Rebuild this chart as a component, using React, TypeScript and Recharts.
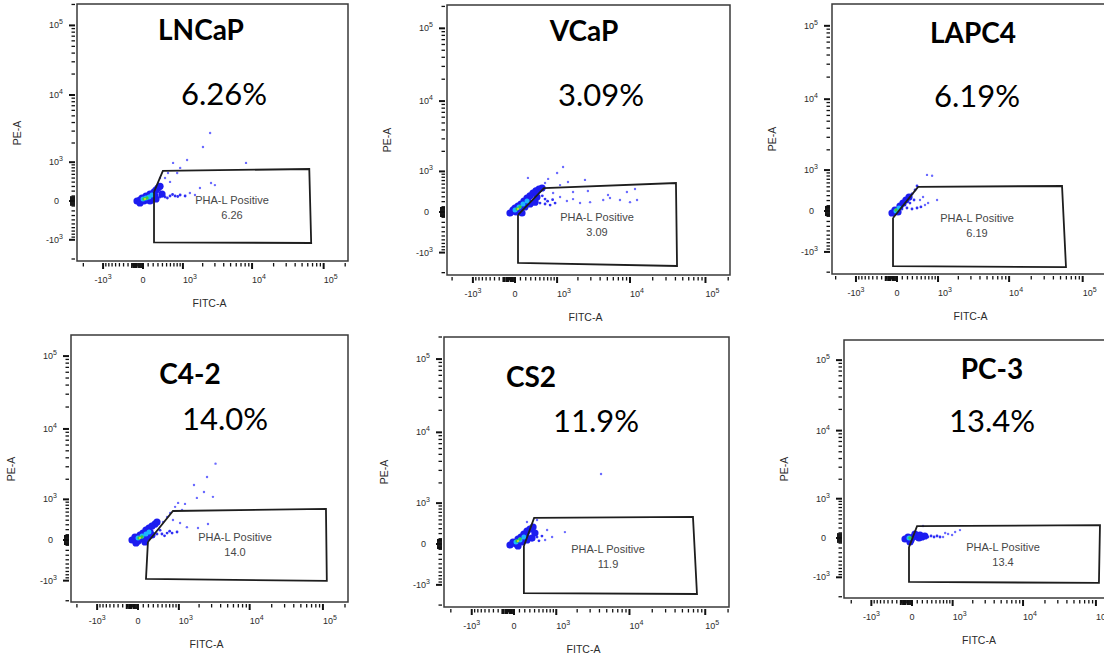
import React from 'react';
import { ScatterChart, Scatter, XAxis, YAxis, ReferenceArea } from 'recharts';

type Pair = [number, number]; // [FITC-A, PE-A]

// asinh display transform: linear around zero, log-like past 10^3
const COFACTOR = 600;
const toDisplay = (v: number) => Math.asinh(v / COFACTOR) / Math.LN10;

// axis ticks (raw fluorescence units)
const majorTicks = [-1000, 0, 1000, 10000, 100000];
const majorBase = ['-10', '0', '10', '10', '10'];
const majorExp = ['3', '', '3', '4', '5'];
const minorTicks = [
  -2000, -900, -800, -700, -600, -500, -400, -300, -200, -100,
  100, 200, 300, 400, 500, 600, 700, 800, 900,
  2000, 3000, 4000, 5000, 6000, 7000, 8000, 9000,
  20000, 30000, 40000, 50000, 60000, 70000, 80000, 90000,
  200000,
];
const xZeroTicks = [-220, -190, -160, -140, -120, -80, -60, -40, -20];
const yZeroTicks = [-80, -60, -40, -20, 20, 40, 60, 80];

const cellLines = ['LNCaP', 'VCaP', 'LAPC4', 'C4-2', 'CS2', 'PC-3'];
const percentPositive = ['6.26', '3.09', '6.19', '14.0', '11.9', '13.4'];
const gateName = 'PHA-L Positive';

// ---- LNCaP ----
const lncapGate: Pair[] = [[217, 182], [410, 700], [63000, 760], [67000, -1130], [217, -1100], [217, 182]];
const lncapBlob: Pair[] = [[-116, 0], [-58, 20], [-19, 60], [19, 0], [58, 100], [97, 40], [136, 139], [175, 80], [217, 180], [258, 222], [300, 265], [345, 305], [237, 100], [136, 0], [258, 40], [390, 139], [-58, -40]];
const lncapFringe: Pair[] = [[345, 80], [462, 80], [590, 100], [735, 100], [900, 120], [1085, 100], [520, 60], [660, 130], [820, 90]];
const lncapMid: Pair[] = [[0, 40], [58, 60], [116, 80], [175, 120]];
const lncapCore: Pair[] = [[19, 40], [77, 60]];
const lncapPeak: Pair[] = [[39, 40]];
const lncapSparse: Pair[] = [[2560, 2810], [2020, 1740], [1165, 1090], [675, 973], [900, 797], [8230, 973], [2640, 380], [3000, 330], [536, 640], [800, 640], [462, 500], [1825, 265], [1290, 160], [1540, 120], [590, 405], [345, 500]];

// ---- VCaP ----
const vcapGate: Pair[] = [[55, -55], [603, 500], [40650, 630], [42000, -1600], [55, -1441], [55, -55]];
const vcapBlob: Pair[] = [[-92, -19], [-37, 38], [18, 0], [55, 114], [110, 153], [166, 212], [225, 274], [284, 320], [346, 383], [410, 430], [480, 475], [553, 500], [92, 38], [184, 95], [284, 153], [390, 190], [243, 212], [432, 295], [0, 76], [129, -19]];
const vcapFringe: Pair[] = [[503, 172], [630, 153], [773, 133], [630, 252], [930, 172], [560, 320], [700, 210], [850, 240]];
const vcapMid: Pair[] = [[0, 38], [73, 95], [147, 153], [225, 212]];
const vcapCore: Pair[] = [[37, 57], [92, 95]];
const vcapPeak: Pair[] = [[55, 57]];
const vcapSparse: Pair[] = [[1230, 1170], [1000, 945], [243, 780], [715, 750], [1450, 660], [2740, 430], [5100, 340], [9100, 405], [11650, 475], [12400, 233], [7360, 233], [4400, 233], [2930, 190], [2140, 172], [1710, 252], [1400, 212], [1110, 295], [865, 383], [1710, 405], [5420, 274], [10000, 190], [1110, 575], [2500, 720], [630, 630]];

// ---- LAPC4 ----
const lapc4Gate: Pair[] = [[-75, -132], [425, 500], [52400, 520], [59300, -1690], [-75, -1640], [-75, -132]];
const lapc4Blob: Pair[] = [[-94, -38], [-38, 19], [19, -19], [56, 94], [113, 151], [170, 211], [231, 272]];
const lapc4Fringe: Pair[] = [[292, 336], [357, 425], [401, 522], [94, 38], [190, 57], [292, 38], [401, 57], [492, 76], [151, 113], [250, 151], [335, 211]];
const lapc4Mid: Pair[] = [[-19, 0], [38, 57]];
const lapc4Core: Pair[] = [[-19, 19]];
const lapc4Peak: Pair[] = [];
const lapc4Sparse: Pair[] = [[650, 835], [800, 805], [965, 211], [680, 151], [545, 272], [470, 211], [595, 113]];

// ---- C4-2 ----
const c42Gate: Pair[] = [[190, -38], [800, 630], [110000, 690], [113000, -1010], [152, -940], [190, -38]];
const c42Blob: Pair[] = [[-113, 0], [-57, 57], [0, -19], [38, 95], [94, 133], [151, 190], [211, 233], [272, 274], [336, 315], [380, 360], [75, 19], [170, 57], [272, 95], [132, -38], [232, 153], [-38, -57]];
const c42Fringe: Pair[] = [[380, 114], [495, 114], [628, 133], [773, 133], [935, 153], [449, 190], [560, 80], [700, 170]];
const c42Mid: Pair[] = [[0, 38], [75, 76], [151, 114], [211, 153]];
const c42Core: Pair[] = [[19, 38], [75, 57]];
const c42Peak: Pair[] = [[38, 38]];
const c42Sparse: Pair[] = [[3400, 3320], [2590, 2150], [1690, 1650], [2346, 1300], [1860, 1055], [3130, 1095], [1245, 843], [972, 875], [869, 750], [1122, 660], [715, 575], [628, 475], [800, 405], [1045, 338], [1330, 250], [1930, 233], [2670, 315], [522, 360]];

// ---- CS2 ----
const cs2Gate: Pair[] = [[183, -38], [390, 548], [68900, 575], [77800, -1380], [183, -1340], [183, -38]];
const cs2Blob: Pair[] = [[-73, -19], [-18, 38], [37, 0], [73, 94], [128, 132], [183, 190], [243, 250], [303, 293], [367, 336], [147, 38], [243, 76], [345, 113], [224, 151], [408, 211], [73, -38]];
const cs2Fringe: Pair[] = [[455, 132], [573, 151], [500, 60]];
const cs2Mid: Pair[] = [[37, 38], [110, 76], [183, 132]];
const cs2Core: Pair[] = [[55, 57], [110, 94]];
const cs2Peak: Pair[] = [[73, 57]];
const cs2Sparse: Pair[] = [[1345, 230], [860, 132], [710, 272], [243, 449], [455, 495], [4200, 2670], [655, 76]];

// ---- PC-3 ----
const pc3Gate: Pair[] = [[-57, -180], [96, 240], [113700, 260], [110000, -1230], [-57, -1190], [-57, -180]];
const pc3Blob: Pair[] = [[-133, -20], [-76, 20], [-19, -39], [19, 20], [76, 39], [133, 0], [190, 20], [250, 39], [-38, -78], [57, 78], [153, 59]];
const pc3Fringe: Pair[] = [[315, 20], [383, 39], [452, 20], [525, 39], [603, 20]];
const pc3Mid: Pair[] = [[-57, 0]];
const pc3Core: Pair[] = [[-38, 0]];
const pc3Peak: Pair[] = [];
const pc3Sparse: Pair[] = [[213, 240], [1095, 118], [1300, 157], [843, 78], [688, 20], [980, 59], [750, 98]];

interface Box { l: number; t: number; r: number; b: number }
interface Events { blob: Pair[]; fringe: Pair[]; mid: Pair[]; core: Pair[]; peak: Pair[]; sparse: Pair[]; gate: Pair[] }
interface PanelSpec {
  index: number;
  box: Box;
  x0: number; kx: number; y0: number; ky: number; // pixel of zero and px per display unit
  titleAt: [number, number];
  pctAt: [number, number];
  gateAt: [number, number];
  ev: Events;
}

const panels: PanelSpec[] = [
  { index: 0, box: { l: 77, t: 4, r: 348, b: 261 }, x0: 143, kx: 71.6, y0: 201, ky: 69.6, titleAt: [201, 29], pctAt: [224, 93], gateAt: [232, 200],
    ev: { blob: lncapBlob, fringe: lncapFringe, mid: lncapMid, core: lncapCore, peak: lncapPeak, sparse: lncapSparse, gate: lncapGate } },
  { index: 1, box: { l: 447, t: 5, r: 730, b: 275 }, x0: 515, kx: 75.5, y0: 212, ky: 72.8, titleAt: [584, 30], pctAt: [601, 94], gateAt: [597, 217],
    ev: { blob: vcapBlob, fringe: vcapFringe, mid: vcapMid, core: vcapCore, peak: vcapPeak, sparse: vcapSparse, gate: vcapGate } },
  { index: 2, box: { l: 832, t: 4, r: 1115, b: 274 }, x0: 897, kx: 73.6, y0: 211, ky: 73.4, titleAt: [973, 32], pctAt: [977, 95], gateAt: [977, 218],
    ev: { blob: lapc4Blob, fringe: lapc4Fringe, mid: lapc4Mid, core: lapc4Core, peak: lapc4Peak, sparse: lapc4Sparse, gate: lapc4Gate } },
  { index: 3, box: { l: 71, t: 335, r: 348, b: 602 }, x0: 138, kx: 73.3, y0: 540, ky: 72.9, titleAt: [190, 373], pctAt: [225, 418], gateAt: [235, 537],
    ev: { blob: c42Blob, fringe: c42Fringe, mid: c42Mid, core: c42Core, peak: c42Peak, sparse: c42Sparse, gate: c42Gate } },
  { index: 4, box: { l: 444, t: 337, r: 729, b: 607 }, x0: 514, kx: 75.8, y0: 544, ky: 73.3, titleAt: [531, 376], pctAt: [596, 420], gateAt: [608, 549],
    ev: { blob: cs2Blob, fringe: cs2Fringe, mid: cs2Mid, core: cs2Core, peak: cs2Peak, sparse: cs2Sparse, gate: cs2Gate } },
  { index: 5, box: { l: 844, t: 340, r: 1120, b: 598 }, x0: 912, kx: 72.9, y0: 538, ky: 70.5, titleAt: [992, 368], pctAt: [992, 420], gateAt: [1003, 547],
    ev: { blob: pc3Blob, fringe: pc3Fringe, mid: pc3Mid, core: pc3Core, peak: pc3Peak, sparse: pc3Sparse, gate: pc3Gate } },
];

const SANS = '"Liberation Sans", Arial, sans-serif';
const TICK_COLOR = '#111';
const LABEL_COLOR = '#2b2b2b';

type TickKind = { kind: 'major' | 'minor' | 'zero'; i: number };
const keyOf = (d: number) => d.toFixed(5);

function buildAxis(dom: [number, number], zero: number[]) {
  const info = new Map<string, TickKind>();
  const add = (v: number, t: TickKind) => {
    const d = toDisplay(v);
    if (d < dom[0] || d > dom[1]) return;
    if (!info.has(keyOf(d))) info.set(keyOf(d), t);
  };
  majorTicks.forEach((v, i) => add(v, { kind: 'major', i }));
  minorTicks.forEach((v) => add(v, { kind: 'minor', i: -1 }));
  zero.forEach((v) => add(v, { kind: 'zero', i: -1 }));
  const ticks = Array.from(info.keys()).map(Number).sort((a, b) => a - b);
  return { ticks, info };
}

const tickLen = (k: TickKind) => (k.kind === 'major' ? 6 : k.kind === 'zero' ? 5 : 3.5);
const tickWidth = (k: TickKind) => (k.kind === 'major' ? 2 : k.kind === 'zero' ? 1.6 : 1.3);

const xTickRenderer = (info: Map<string, TickKind>) => (props: any) => {
  const { x, y, payload } = props;
  const t = info.get(keyOf(payload.value));
  if (!t) return <g />;
  const len = tickLen(t);
  const positive = t.kind === 'major' && majorTicks[t.i] > 0;
  return (
    <g>
      <line x1={x} x2={x} y1={y + 2} y2={y + 2 + len} stroke={TICK_COLOR} strokeWidth={tickWidth(t)} />
      {t.kind === 'major' && (
        <text x={x} y={y + 22} textAnchor={positive ? 'start' : 'middle'} fontSize={9} fill={LABEL_COLOR} fontFamily={SANS}>
          {majorBase[t.i]}
          {majorExp[t.i] && <tspan dy={-4} fontSize={7}>{majorExp[t.i]}</tspan>}
        </text>
      )}
    </g>
  );
};

const yTickRenderer = (info: Map<string, TickKind>) => (props: any) => {
  const { x, y, payload } = props;
  const t = info.get(keyOf(payload.value));
  if (!t) return <g />;
  const len = tickLen(t);
  return (
    <g>
      <line x1={x - 2 - len} x2={x - 2} y1={y} y2={y} stroke={TICK_COLOR} strokeWidth={tickWidth(t)} />
      {t.kind === 'major' && (
        <text x={majorExp[t.i] ? x - 14 : x - 18} y={y + 3} textAnchor="end" fontSize={9} fill={LABEL_COLOR} fontFamily={SANS}>
          {majorBase[t.i]}
          {majorExp[t.i] && <tspan dy={-4} fontSize={7}>{majorExp[t.i]}</tspan>}
        </text>
      )}
    </g>
  );
};

const dot = (r: number, fill: string) => (props: any) => <circle cx={props.cx} cy={props.cy} r={r} fill={fill} />;
const toRows = (pts: Pair[]) => pts.map(([f, e]) => ({ x: toDisplay(f), y: toDisplay(e) }));

const ML = 70;
const MB = 50;
const MT = 2;
const MR = 2;

const Panel: React.FC<{ p: PanelSpec }> = ({ p }) => {
  const { box, ev } = p;
  const w = box.r - box.l;
  const h = box.b - box.t;
  const xDom: [number, number] = [(box.l - p.x0) / p.kx, (box.r - p.x0) / p.kx];
  const yDom: [number, number] = [(p.y0 - box.b) / p.ky, (p.y0 - box.t) / p.ky];
  const xa = buildAxis(xDom, xZeroTicks);
  const ya = buildAxis(yDom, yZeroTicks);

  // density layers, drawn from sparse outliers up to the densest core
  const layers: { pts: Pair[]; r: number; fill: string }[] = [
    { pts: ev.sparse, r: 1.2, fill: '#6a6aff' },
    { pts: ev.fringe, r: 1.4, fill: '#3030f5' },
    { pts: ev.blob, r: 3.6, fill: '#1c1cf0' },
    { pts: ev.mid, r: 2.5, fill: '#1cb4ff' },
    { pts: ev.core, r: 1.7, fill: '#3ccf3c' },
    { pts: ev.peak, r: 1.0, fill: '#f0d81c' },
  ];

  const text = (x: number, y: number, content: React.ReactNode, style: React.CSSProperties) => (
    <div style={{ position: 'absolute', left: x, top: y, transform: 'translate(-50%, -50%)', whiteSpace: 'nowrap', lineHeight: 1, ...style }}>
      {content}
    </div>
  );

  return (
    <>
      <div style={{ position: 'absolute', left: box.l - ML, top: box.t - MT }}>
        <ScatterChart width={w + ML + MR} height={h + MT + MB} margin={{ top: MT, right: MR, bottom: 0, left: 0 }}>
          <XAxis
            type="number"
            dataKey="x"
            domain={xDom}
            allowDataOverflow
            ticks={xa.ticks}
            interval={0}
            tick={xTickRenderer(xa.info)}
            tickLine={false}
            axisLine={false}
            tickSize={0}
            tickMargin={0}
            height={MB}
          />
          <YAxis
            type="number"
            dataKey="y"
            domain={yDom}
            allowDataOverflow
            ticks={ya.ticks}
            interval={0}
            tick={yTickRenderer(ya.info)}
            tickLine={false}
            axisLine={false}
            tickSize={0}
            tickMargin={0}
            width={ML}
          />
          <ReferenceArea x1={xDom[0]} x2={xDom[1]} y1={yDom[0]} y2={yDom[1]} fill="none" stroke="#3a3a3a" strokeWidth={1.5} ifOverflow="visible" />
          {layers.map((layer, i) => (
            <Scatter key={i} data={toRows(layer.pts)} fill={layer.fill} shape={dot(layer.r, layer.fill)} isAnimationActive={false} />
          ))}
          <Scatter
            data={toRows(ev.gate)}
            fill="#1e1e1e"
            line={{ stroke: '#1e1e1e', strokeWidth: 1.8 }}
            lineType="joint"
            shape={() => <g />}
            isAnimationActive={false}
          />
        </ScatterChart>
      </div>
      {text(p.titleAt[0], p.titleAt[1], cellLines[p.index], { fontFamily: 'Lato, sans-serif', fontWeight: 700, fontSize: 28, color: '#000' })}
      {text(p.pctAt[0], p.pctAt[1], `${percentPositive[p.index]}%`, { fontFamily: 'Lato, sans-serif', fontSize: 31, color: '#000' })}
      {text(p.gateAt[0], p.gateAt[1], gateName, { fontFamily: SANS, fontSize: 11, color: '#474747' })}
      {text(p.gateAt[0], p.gateAt[1] + 15, percentPositive[p.index], { fontFamily: SANS, fontSize: 11, color: '#474747' })}
      {text((box.l + box.r) / 2 - 3, box.b + 42, 'FITC-A', { fontFamily: SANS, fontSize: 10.5, color: LABEL_COLOR })}
      {text(box.l - 60, (box.t + box.b) / 2, 'PE-A', { fontFamily: SANS, fontSize: 10.5, color: LABEL_COLOR, transform: 'translate(-50%, -50%) rotate(-90deg)' })}
    </>
  );
};

export default function App() {
  return (
    <div style={{ position: 'absolute', left: 0, top: 0, width: 1104, height: 661, overflow: 'hidden', background: '#fff' }}>
      {panels.map((p) => (
        <Panel key={p.index} p={p} />
      ))}
    </div>
  );
}
